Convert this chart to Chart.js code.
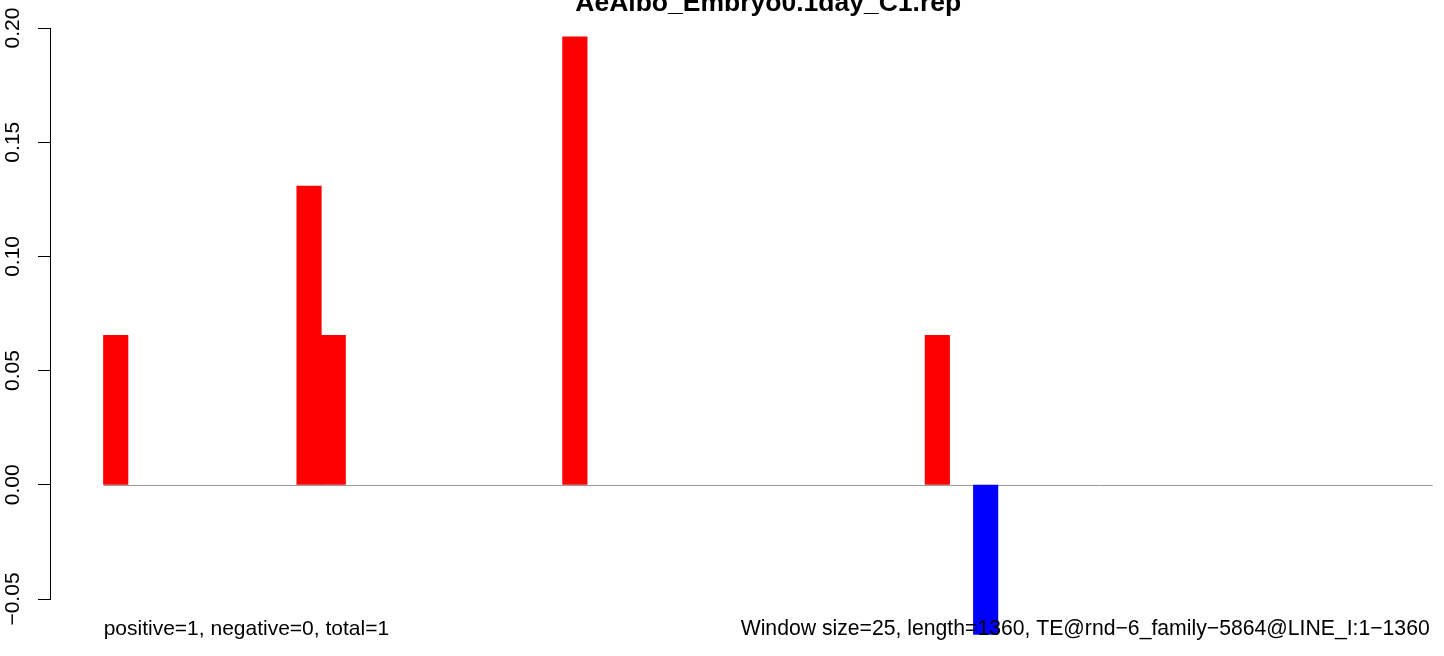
<!DOCTYPE html>
<html>
<head>
<meta charset="utf-8">
<script src="https://cdn.jsdelivr.net/npm/chart.js@4/dist/chart.umd.min.js"></script>
<style>
  html, body { margin: 0; padding: 0; background: #ffffff; }
  #wrap { width: 1444px; height: 656px; position: relative; }
</style>
</head>
<body>
<div id="wrap"><canvas id="c" width="1444" height="656"></canvas></div>
<script>
// ---- data ----
const chartTitle = "AeAlbo_Embryo0.1day_C1.rep";
const leftNote = "positive=1, negative=0, total=1";
const rightNote = "Window size=25, length=1360, TE@rnd-6_family-5864@LINE_I:1-1360";
// window index (window size 25 over length 1360)
const windowIndex = [0,1,2,3,4,5,6,7,8,9,10,11,12,13,14,15,16,17,18,19,20,21,22,23,24,25,26,27,28,29,30,31,32,33,34,35,36,37,38,39,40,41,42,43,44,45,46,47,48,49,50,51,52,53,54];
const windowValue = [0.0654,0,0,0,0,0,0,0,0.1307,0.0654,0,0,0,0,0,0,0,0,0,0.1961,0,0,0,0,0,0,0,0,0,0,0,0,0,0,0.0654,0,-0.0654,0,0,0,0,0,0,0,0,0,0,0,0,0,0,0,0,0,0];
const yTicks = [-0.05, 0.00, 0.05, 0.10, 0.15, 0.20];

const points = windowIndex.map((x, i) => ({ x: x, y: windowValue[i] }));

const fmt = v => {
  const r = Math.round(v * 100) / 100;
  return (r < 0 ? "\u2212" : "") + Math.abs(r).toFixed(2);
};

const decor = {
  id: "decor",
  beforeDatasetsDraw(chart) {
    const ctx = chart.ctx, xs = chart.scales.x, ys = chart.scales.y;
    const y0 = Math.round(ys.getPixelForValue(0)) + 0.5;
    ctx.save();
    ctx.strokeStyle = "#9a9a9a";
    ctx.lineWidth = 1;
    ctx.beginPath();
    ctx.moveTo(xs.getPixelForValue(windowIndex[0] - 0.5), y0);
    ctx.lineTo(xs.getPixelForValue(windowIndex[windowIndex.length - 1] + 0.5), y0);
    ctx.stroke();
    ctx.restore();
  },
  afterDraw(chart) {
    const ctx = chart.ctx, xs = chart.scales.x;
    const left = xs.getPixelForValue(windowIndex[0] - 0.5);
    const right = xs.getPixelForValue(windowIndex[windowIndex.length - 1] + 0.5);
    ctx.save();
    ctx.fillStyle = "#000";
    ctx.textBaseline = "alphabetic";
    ctx.font = "bold 26.5px 'Liberation Sans', Arial, sans-serif";
    ctx.textAlign = "center";
    ctx.fillText(chartTitle, (left + right) / 2, 10.5);
    ctx.font = "21px 'Liberation Sans', Arial, sans-serif";
    ctx.textAlign = "left";
    ctx.fillText(leftNote, left, 635);
    ctx.font = "21.2px 'Liberation Sans', Arial, sans-serif";
    ctx.textAlign = "right";
    ctx.fillText(rightNote.replace(/-/g, "\u2212"), right - 3, 635);
    ctx.restore();
  }
};

new Chart(document.getElementById("c"), {
  type: "bar",
  data: {
    datasets: [{
      data: points,
      backgroundColor: c => (!c.raw || c.raw.y === 0) ? "rgba(0,0,0,0)" : (c.raw.y < 0 ? "#0000ff" : "#ff0000"),
      borderWidth: 0,
      inflateAmount: 0.5,
      barPercentage: 1.0,
      categoryPercentage: 1.0,
      clip: false
    }]
  },
  plugins: [decor],
  options: {
    responsive: false,
    animation: false,
    devicePixelRatio: 1,
    layout: { padding: { left: 0, right: 12, top: 28, bottom: 57 } },
    plugins: { legend: { display: false }, tooltip: { enabled: false }, title: { display: false } },
    scales: {
      x: {
        type: "linear",
        display: false,
        offset: false,
        grid: { offset: false },
        min: -2.72,
        max: 54.47
      },
      y: {
        min: -0.05,
        max: 0.2,
        afterFit: s => { s.width = 50; },
        afterBuildTicks: s => { s.ticks = yTicks.map(v => ({ value: v })); },
        border: { display: true, color: "#000", width: 1 },
        grid: { drawOnChartArea: false, drawTicks: true, tickLength: 12, color: "#000", lineWidth: 1 },
        ticks: {
          minRotation: 90,
          maxRotation: 90,
          crossAlign: "center",
          padding: -2,
          color: "#000",
          font: { family: "'Liberation Sans', Arial, sans-serif", size: 21 },
          callback: v => fmt(v)
        }
      }
    }
  }
});
</script>
</body>
</html>
